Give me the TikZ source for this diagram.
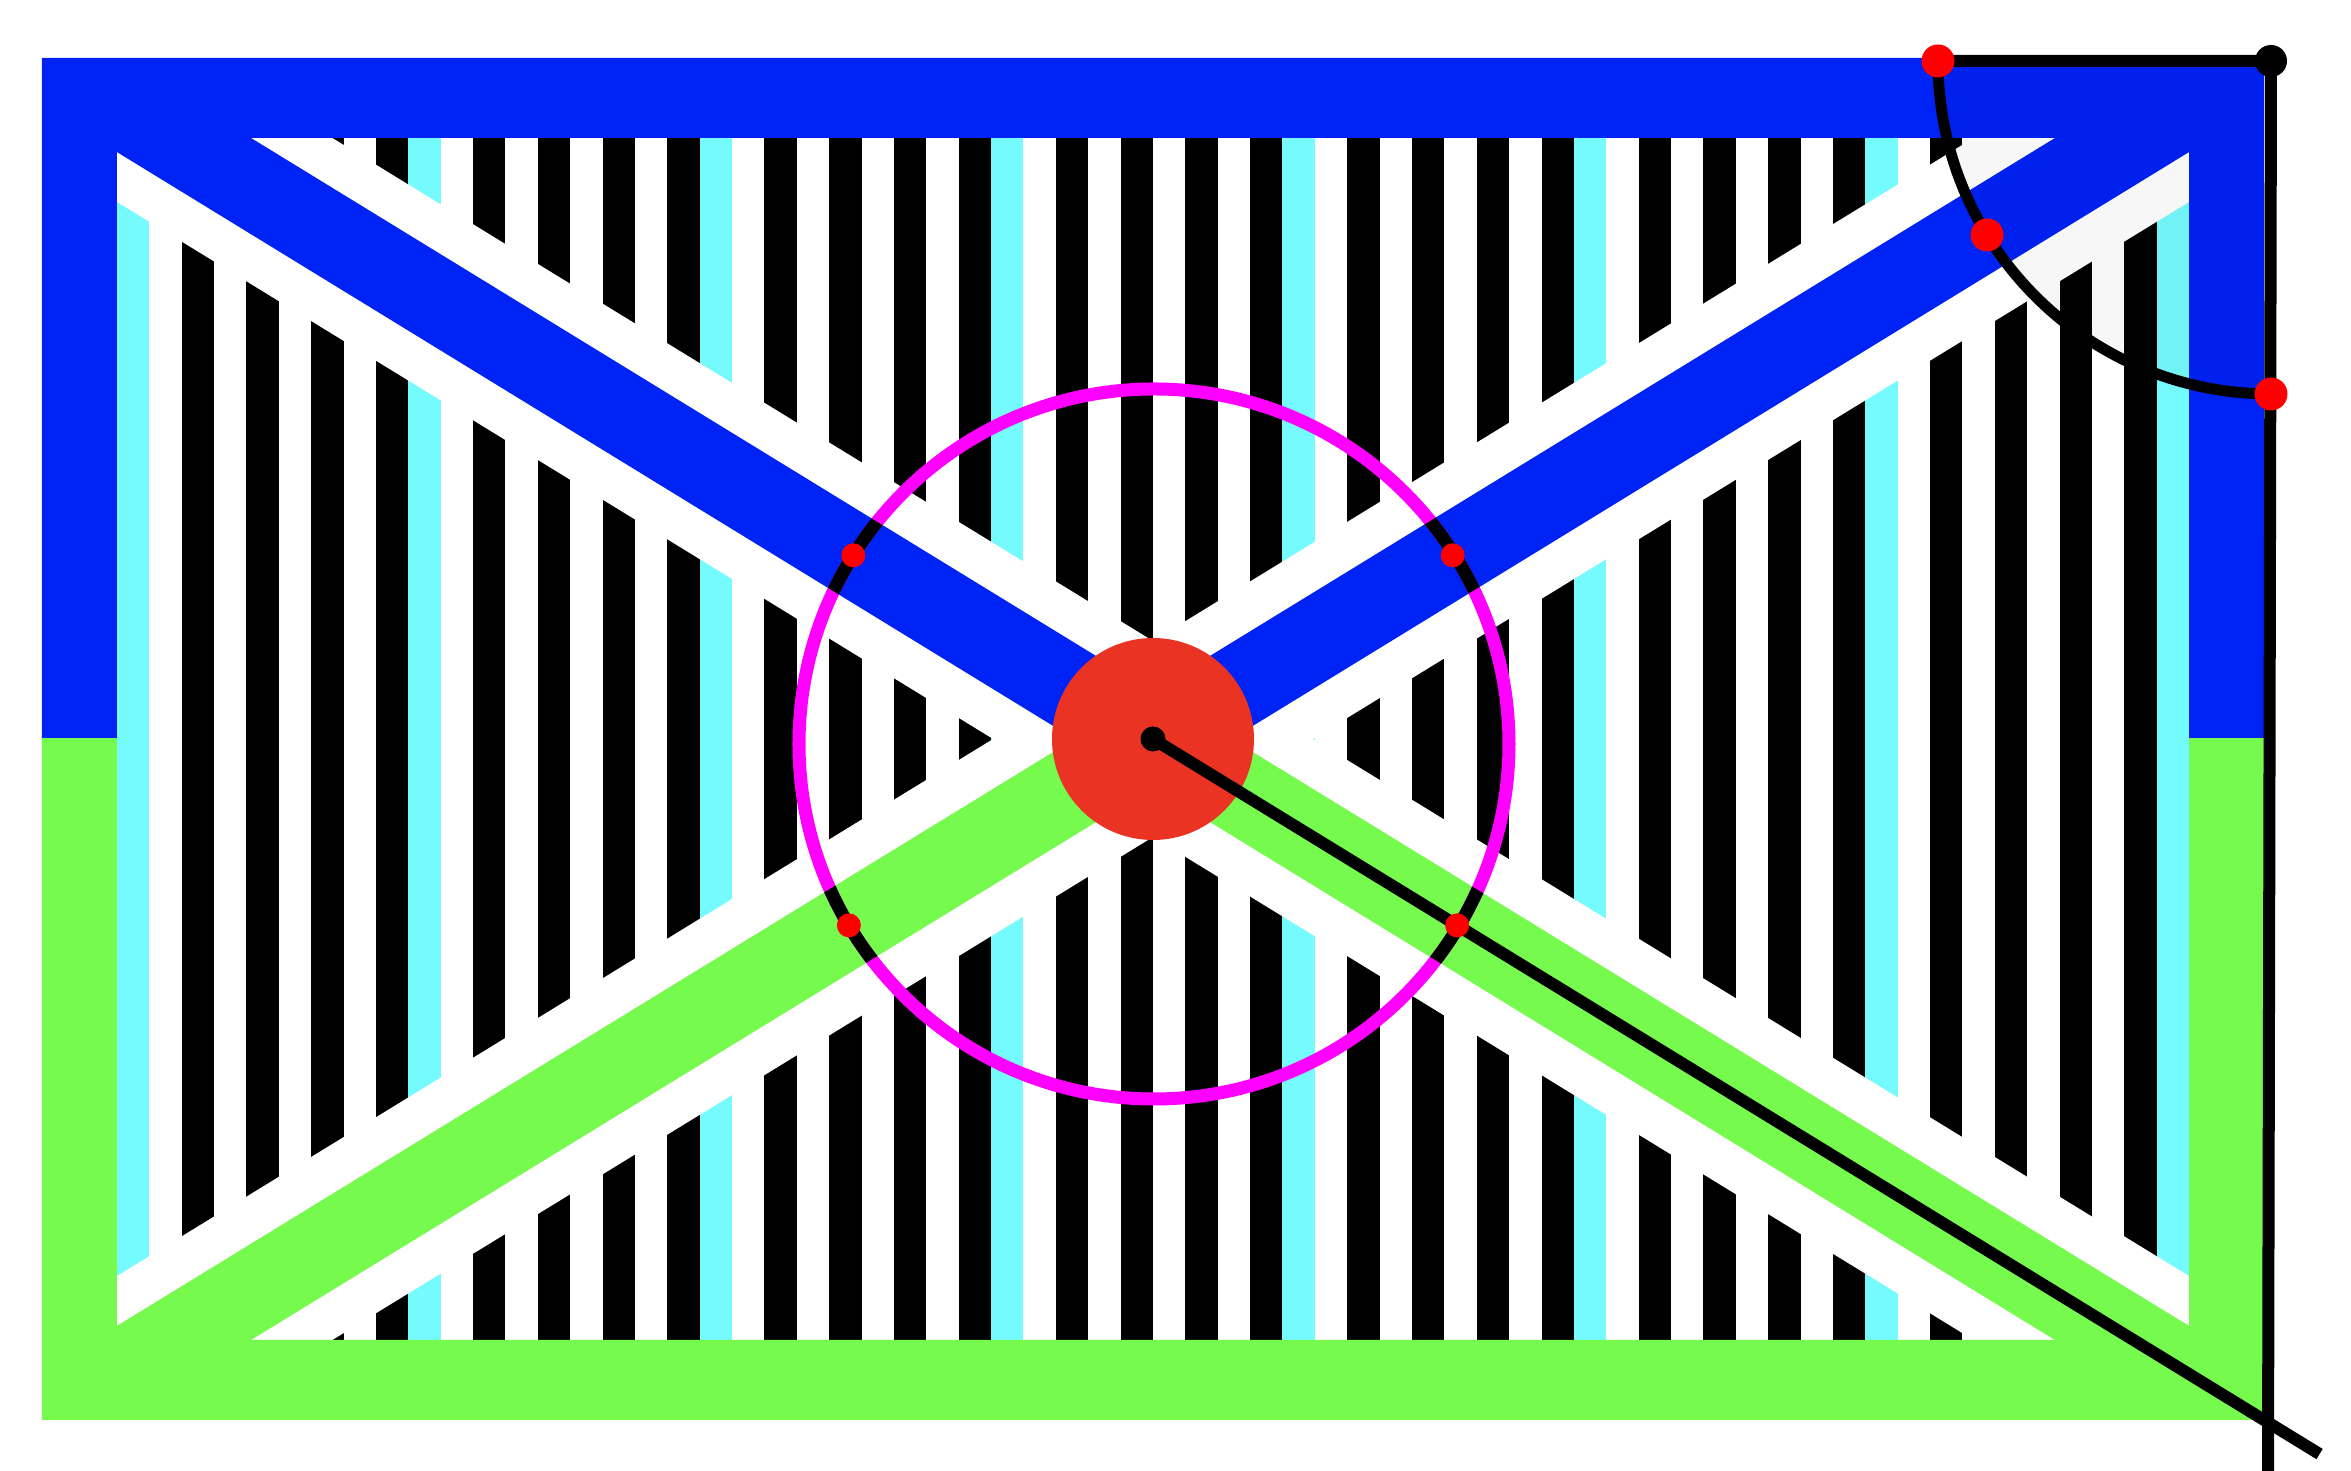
\documentclass[tikz,border=0pt]{standalone}
\usetikzlibrary{calc}
\definecolor{flagblue}{RGB}{0,35,245}
\definecolor{flaggreen}{RGB}{117,250,77}
\definecolor{stripecyan}{RGB}{117,251,253}
\definecolor{discred}{RGB}{234,51,35}
\definecolor{ringmagenta}{RGB}{255,0,255}
\begin{document}
\begin{tikzpicture}[x=0.01cm, y=0.01cm,
        cline/.style={line width=0.12cm},
        ring/.style={line width=0.13cm}]
    \useasboundingbox (-1153,-732) rectangle (1198,739);
    \fill[white] (-1153,-732) rectangle (1198,739);

    % Centre and outer corners
    \coordinate (O) at (0,0);
    \coordinate (A) at (-1111,681);
    \coordinate (B) at (1111,681);
    \coordinate (C) at (1111,-681);
    \coordinate (D) at (-1111,-681);

    % Vertical stripes, 64 units of 32.375
    \begin{scope}
        \clip (-1036,-601) rectangle (1036,601);
        \foreach \b in {0,...,7}
            \fill[stripecyan] ({-1036+9*\b*32.375},-601) rectangle ++(32.375,1202);
        \foreach \b in {0,...,6}
            \foreach \j in {2,4,6,8}
                \fill[black] ({-1036+(9*\b+\j)*32.375},-601) rectangle ++(32.375,1202);
        % White cross
        \draw[white, line width=1.67cm] (A) -- (C) (B) -- (D);
    \end{scope}

    % Frame and cross: blue above, green below
    \foreach \col/\ya/\yb in {flagblue/0/681, flaggreen/-681/0} {
        \begin{scope}
            \clip (-1111,\ya) rectangle (1111,\yb);
            \fill[\col, even odd rule] (A) rectangle (C) (-1036,-601) rectangle (1036,601);
            \clip (-1090,-660) rectangle (1090,660);
            \draw[\col, line width=0.82cm] (A) -- (C) (B) -- (D);
        \end{scope}
    }

    % Quarter disc at the corner
    \coordinate (K) at (1118,678);
    \coordinate (P1) at ($(K)+(-333,0)$);
    \coordinate (P2) at ($(K)+(211.5:333)$);
    \coordinate (P3) at ($(K)+(0,-333)$);
    \coordinate (F) at (1115,-740);
    \fill[black, opacity=0.03] (K) -- (P1) arc (180:270:333) -- cycle;

    % Red disc and circle
    \coordinate (M) at (1,-5);
    \fill[discred] (O) circle (101);
    \draw[ring, ringmagenta] (M) circle (355);
    \foreach \a in {31.5,-31.5} {
        \begin{scope}
            \clip[rotate=\a] (-1400,-41) rectangle (1400,41);
            \draw[ring, black] (M) circle (355);
        \end{scope}
    }

    % Lines
    \coordinate (E) at ($(O)!1.05!(C)$);
    \draw[cline] (O) -- (E);
    \draw[cline] (P1) -- (K) -- (F);
    \draw[line width=0.11cm] (P1) arc (180:270:333);

    % Points
    \fill (O) circle (12.5);
    \fill (K) circle (16);
    \foreach \p in {P1,P2,P3}
        \fill[red] (\p) circle (16.5);
    \foreach \a/\r in {31.5/351.5,148.5/351.5,211.5/356.7,328.5/356.7}
        \fill[red] (\a:\r) circle (12);
\end{tikzpicture}
\end{document}
